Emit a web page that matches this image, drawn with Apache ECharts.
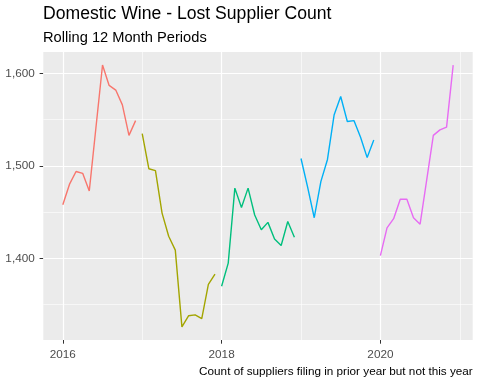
<!DOCTYPE html>
<html>
<head>
<meta charset="utf-8">
<script src="https://cdn.jsdelivr.net/npm/echarts@6/dist/echarts.min.js"></script>
<style>html,body{margin:0;padding:0;background:#fff}#c{width:480px;height:384px}</style>
</head>
<body>
<div id="c"></div>
<script>
// ---- data (rolling 12-month lost supplier counts, Jan..Dec of each year) ----
const years = [2016, 2017, 2018, 2019, 2020];
const monthIndex = [0, 1, 2, 3, 4, 5, 6, 7, 8, 9, 10, 11];
const v2016 = [1458, 1480, 1494, 1492, 1473, 1541, 1609, 1587, 1582, 1566, 1533, 1549];
const v2017 = [1535, 1497, 1495, 1449, 1424, 1409, 1326, 1338, 1339, 1335, 1372, 1383];
const v2018 = [1370, 1395, 1476, 1455, 1476, 1447, 1431, 1439, 1421, 1414, 1440, 1423];
const v2019 = [1508, 1477, 1444, 1483, 1507, 1555, 1575, 1548, 1549, 1531, 1509, 1528];
const v2020 = [1403, 1433, 1443, 1464, 1464, 1444, 1437, 1485, 1533, 1539, 1542, 1609];
const seriesValues = [v2016, v2017, v2018, v2019, v2020];
const colors = ['#F8766D', '#A3A500', '#00BF7D', '#00B0F6', '#E76BF3'];

const xMajorTicks = [2016, 2018, 2020];
const xMinorTicks = [2017, 2019, 2021];
const yMajorTicks = [1400, 1500, 1600];
const yMinorTicks = [1350, 1450, 1550];

const titleText = 'Domestic Wine - Lost Supplier Count';
const subtitleText = 'Rolling 12 Month Periods';
const captionText = 'Count of suppliers filing in prior year but not this year';

// ---- axis ranges with ggplot-like 5% expansion ----
const allY = [].concat(...seriesValues);
const yMinD = Math.min(...allY), yMaxD = Math.max(...allY);
const yPad = (yMaxD - yMinD) * 0.05;
const xMinD = years[0], xMaxD = years[years.length - 1] + 11 / 12;
const xPad = (xMaxD - xMinD) * 0.05;

const FONT = 'Liberation Sans, Arial, Helvetica, sans-serif';

const dataSeries = years.map((yr, i) => ({
  type: 'line',
  name: String(yr),
  data: monthIndex.map(m => [yr + m / 12, seriesValues[i][m]]),
  showSymbol: false,
  symbol: 'none',
  lineStyle: { color: colors[i], width: 1.4 },
  itemStyle: { color: colors[i] },
  z: 3,
  animation: false
}));

const gridSeries = {
  type: 'line',
  data: [],
  silent: true,
  animation: false,
  markLine: {
    silent: true,
    symbol: 'none',
    animation: false,
    z: 1,
    label: { show: false },
    emphasis: { disabled: true },
    data: [
      ...xMinorTicks.map(v => ({ xAxis: v, lineStyle: { color: '#ffffff', width: 0.6, type: 'solid' } })),
      ...yMinorTicks.map(v => ({ yAxis: v, lineStyle: { color: '#ffffff', width: 0.6, type: 'solid' } })),
      ...xMajorTicks.map(v => ({ xAxis: v, lineStyle: { color: '#ffffff', width: 1.2, type: 'solid' } })),
      ...yMajorTicks.map(v => ({ yAxis: v, lineStyle: { color: '#ffffff', width: 1.2, type: 'solid' } }))
    ]
  }
};

const chart = echarts.init(document.getElementById('c'), null, { renderer: 'canvas' });
chart.setOption({
  animation: false,
  backgroundColor: '#ffffff',
  title: [
    { text: titleText, left: 43, top: 5, padding: 0,
      textStyle: { fontFamily: FONT, fontSize: 17.6, fontWeight: 'normal', color: '#000' } },
    { text: subtitleText, left: 43, top: 30.3, padding: 0,
      textStyle: { fontFamily: FONT, fontSize: 14.67, fontWeight: 'normal', color: '#000' } },
    { text: captionText, right: 7.3, top: 366.1, padding: 0,
      textStyle: { fontFamily: FONT, fontSize: 11.73, fontWeight: 'normal', color: '#000' } }
  ],
  grid: {
    left: 43.3, right: 7.3, top: 52, bottom: 44,
    show: true, backgroundColor: '#EBEBEB', borderWidth: 0,
    containLabel: false
  },
  xAxis: {
    type: 'value',
    min: xMinD - xPad,
    max: xMaxD + xPad,
    axisLine: { show: false },
    splitLine: { show: false },
    axisTick: { show: true, customValues: xMajorTicks, length: 3.7, lineStyle: { color: '#333333', width: 1 } },
    axisLabel: { show: true, customValues: xMajorTicks, margin: 8.4, fontFamily: FONT, fontSize: 11.73, color: '#4D4D4D',
      formatter: v => String(Math.round(v)) }
  },
  yAxis: {
    type: 'value',
    min: yMinD - yPad,
    max: yMaxD + yPad,
    axisLine: { show: false },
    splitLine: { show: false },
    axisTick: { show: true, customValues: yMajorTicks, length: 3.7, lineStyle: { color: '#333333', width: 1 } },
    axisLabel: { show: true, customValues: yMajorTicks, margin: 8.6, fontFamily: FONT, fontSize: 11.73, color: '#4D4D4D',
      formatter: v => Math.round(v).toLocaleString('en-US') }
  },
  tooltip: { show: false },
  series: [gridSeries, ...dataSeries]
});
</script>
</body>
</html>
